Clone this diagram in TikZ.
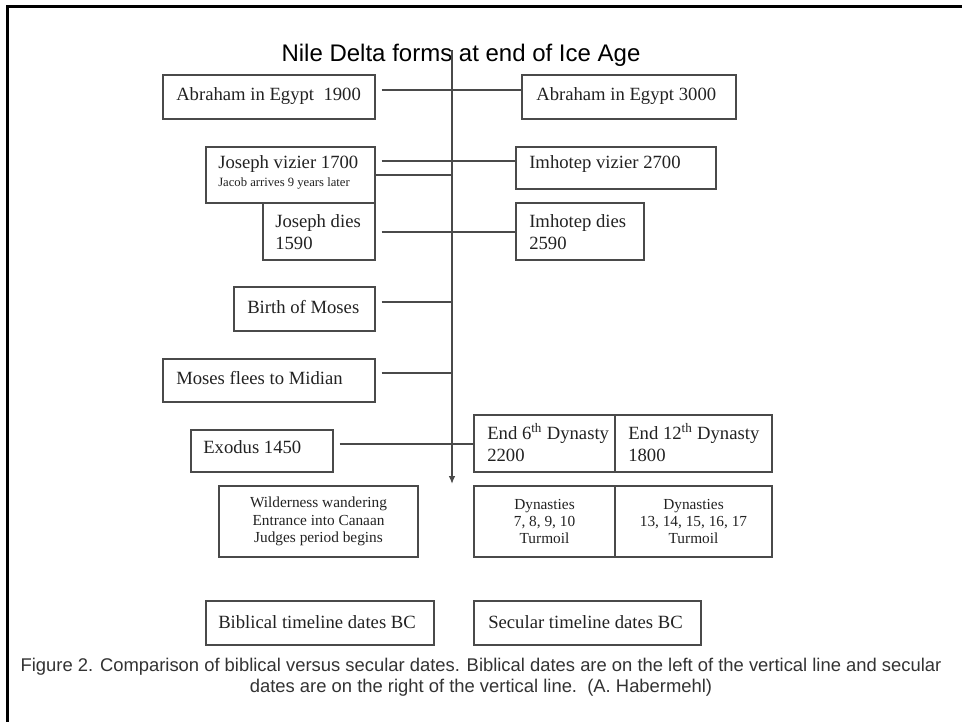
\documentclass[tikz,border=0pt]{standalone}
\usepackage{fontspec}
\setmainfont{Liberation Serif}
\newfontfamily\tlsans{Liberation Sans}
\usetikzlibrary{arrows.meta}
\definecolor{linec}{HTML}{4A4A4A}
\definecolor{txtc}{HTML}{222222}
\definecolor{capc}{HTML}{333333}
\newcommand\tlrect[5]{\node[rbox, minimum width={(#4-#2)*0.75pt}, minimum height={(#5-#3)*0.75pt}] (#1) at ({(#2+#4)/2},{(#3+#5)/2}) {};}
\begin{document}
\begin{tikzpicture}[x=0.75pt,y=-0.75pt,
  rbox/.style={draw=linec, line width=1.1pt, inner sep=0pt},
  btxt/.style={font=\fontsize{14}{16}\selectfont, text=txtc, inner sep=0pt, anchor=base west},
  stxt/.style={font=\fontsize{11.5}{13.1}\selectfont, text=txtc, inner sep=0pt, align=center},
  conn/.style={draw=linec, line width=1.1pt},
  captxt/.style={font=\tlsans\fontsize{13.8}{16}\selectfont, text=capc, inner sep=0pt}]
\useasboundingbox (0,0) rectangle (962,722);
\fill[white] (0,0) rectangle (962,722);
\draw[line width=2.25pt, black] (962,6.5) -- (7,6.5) -- (7,722);

\node[font=\tlsans\fontsize{18}{21}\selectfont, text=black, inner sep=0pt, anchor=base] (title) at (461,61) {Nile Delta forms at end of Ice Age};

\coordinate (vtop) at (452,50);
\coordinate (vbot) at (452,484);
\draw[conn, line width=1.2pt, -{Latex[length=6pt,width=5pt]}] (vtop) -- (vbot);

\tlrect{abL}{163}{75}{375}{119}
\tlrect{abR}{522}{75}{736}{119}
\tlrect{jv}{206}{147}{375}{203}
\tlrect{iv}{516}{147}{716}{189}
\tlrect{jd}{263}{203}{375}{260}
\tlrect{id}{516}{203}{644}{260}
\tlrect{bm}{234}{287}{375}{331}
\tlrect{mf}{163}{359}{375}{402}
\tlrect{ex}{191}{430}{333}{472}
\tlrect{ea}{474}{415}{615}{472}
\tlrect{eb}{615}{415}{772}{472}
\tlrect{wd}{219}{486}{418}{557}
\tlrect{da}{474}{486}{615}{557}
\tlrect{db}{615}{486}{772}{557}
\tlrect{bib}{206}{601}{434}{645}
\tlrect{sec}{474}{601}{701}{645}

\node[btxt] (abL-t) at (176,100) {Abraham in Egypt~~1900};
\node[btxt] (abR-t) at (536,100) {Abraham in Egypt 3000};
\node[btxt] (jv-t) at (218,168) {Joseph vizier 1700};
\node[btxt, font=\fontsize{9.5}{11}\selectfont] (jv-s) at (218,186) {Jacob arrives 9 years later};
\node[btxt] (iv-t) at (529,168) {Imhotep vizier 2700};
\node[btxt] (jd-t1) at (275,227) {Joseph dies};
\node[btxt] (jd-t2) at (275,249) {1590};
\node[btxt] (id-t1) at (529,227) {Imhotep dies};
\node[btxt] (id-t2) at (529,249) {2590};
\node[btxt] (bm-t) at (247,313) {Birth of Moses};
\node[btxt] (mf-t) at (176,384) {Moses flees to Midian};
\node[btxt] (ex-t) at (203,453) {Exodus 1450};
\node[btxt] (ea-t1) at (487,439) {End 6\textsuperscript{th} Dynasty};
\node[btxt] (ea-t2) at (487,461) {2200};
\node[btxt] (eb-t1) at (628,439) {End 12\textsuperscript{th} Dynasty};
\node[btxt] (eb-t2) at (628,461) {1800};
\node[stxt] (wd-t) at (wd) {Wilderness wandering\\Entrance into Canaan\\Judges period begins};
\node[stxt] (da-t) at (da) {Dynasties\\7, 8, 9, 10\\Turmoil};
\node[stxt] (db-t) at (db) {Dynasties\\13, 14, 15, 16, 17\\Turmoil};
\node[btxt] (bib-t) at (218,628) {Biblical timeline dates BC};
\node[btxt] (sec-t) at (488,628) {Secular timeline dates BC};

\draw[conn] (abL.east) ++(6,-7) coordinate (c1) -- (c1 -| abR.west);
\draw[conn] (jv.east) ++(6,-14) coordinate (c2) -- (c2 -| iv.west);
\draw[conn] (jv.east) -- (jv.east -| vtop);
\draw[conn] (jd.east) ++(6,0.5) coordinate (c3) -- (c3 -| id.west);
\draw[conn] (bm.east) ++(6,-7) coordinate (c4) -- (c4 -| vtop);
\draw[conn] (mf.east) ++(6,-7.5) coordinate (c5) -- (c5 -| vtop);
\draw[conn] (ex.east) ++(6,-7) coordinate (c6) -- (c6 -| ea.west);

\node[captxt] (cap1) at (481,667) {Figure 2. Comparison of biblical versus secular dates. Biblical dates are on the left of the vertical line and secular};
\node[captxt] (cap2) at (481,688) {dates are on the right of the vertical line.~~(A. Habermehl)};
\end{tikzpicture}
\end{document}
